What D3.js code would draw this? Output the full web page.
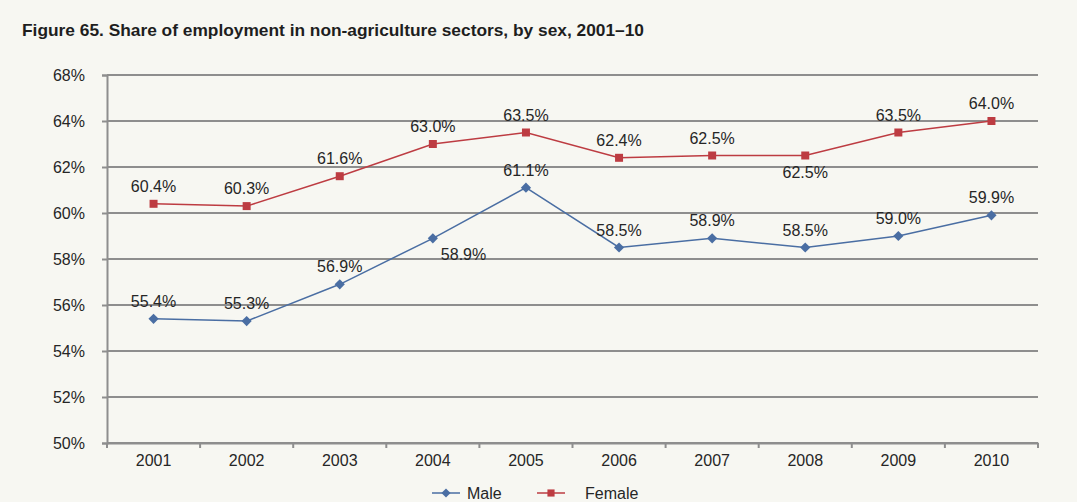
<!DOCTYPE html>
<html lang="en">

<head>
    <meta charset="UTF-8">
    <script src="https://d3js.org/d3.v7.min.js"></script>
    <title>Share of employment in non-agriculture sectors</title>

    <style>
        body {
            margin: 0;
            background: #f7f7f2;
            font-family: "Liberation Sans", Arial, sans-serif;
        }

        .axis text {
            font-size: 16px;
            fill: #262626;
        }

        .label {
            font-size: 16px;
            fill: #262626;
        }
    </style>
</head>

<body>
    <script>
        // data
        const years = ['2001', '2002', '2003', '2004', '2005', '2006', '2007', '2008', '2009', '2010'];
        const male = [55.4, 55.3, 56.9, 58.9, 61.1, 58.5, 58.9, 58.5, 59.0, 59.9];
        const female = [60.4, 60.3, 61.6, 63.0, 63.5, 62.4, 62.5, 62.5, 63.5, 64.0];
        // where each value label sits relative to its point
        const malePlace = ['up', 'up', 'up', 'right', 'up', 'up', 'up', 'up', 'up', 'up'];
        const femalePlace = ['up', 'up', 'up', 'up', 'up', 'up', 'up', 'down', 'up', 'up'];
        const yTicks = [50, 52, 54, 56, 58, 60, 62, 64, 66];
        const yTickLabels = ['50%', '52%', '54%', '56%', '58%', '60%', '62%', '64%', '68%'];

        const width = 1077, height = 502;
        const margin = { top: 75, right: 39, bottom: 59, left: 107 };

        const svg = d3.select('body').append('svg')
            .attr('width', width)
            .attr('height', height);

        svg.append('text')
            .attr('x', 22)
            .attr('y', 36)
            .attr('font-size', '17px')
            .attr('font-weight', 'bold')
            .attr('fill', '#1e1e1e')
            .attr('textLength', 622)
            .attr('lengthAdjust', 'spacingAndGlyphs')
            .text('Figure 65. Share of employment in non-agriculture sectors, by sex, 2001–10');

        const x = d3.scaleBand().domain(years).range([margin.left, width - margin.right]);
        const y = d3.scaleLinear().domain([50, 66]).range([height - margin.bottom, margin.top]);
        const cx = (d) => x(d) + x.bandwidth() / 2;

        // gridlines
        svg.append('g')
            .selectAll('line')
            .data(yTicks)
            .join('line')
            .attr('x1', margin.left)
            .attr('x2', width - margin.right)
            .attr('y1', (d) => y(d))
            .attr('y2', (d) => y(d))
            .attr('stroke', '#8e8e8e')
            .attr('stroke-width', 2);

        // y axis
        const yaxis = d3.axisLeft(y)
            .tickValues(yTicks)
            .tickFormat((d, i) => yTickLabels[i])
            .tickSize(5)
            .tickPadding(17);
        const gy = svg.append('g')
            .attr('class', 'axis')
            .attr('transform', `translate(${margin.left},0)`)
            .call(yaxis);
        gy.select('.domain').attr('stroke', '#8e8e8e').attr('stroke-width', 2);
        gy.selectAll('.tick line').attr('stroke', '#8e8e8e').attr('stroke-width', 2);

        // x axis, ticks sit between categories
        const xaxis = d3.axisBottom(x).tickSize(0).tickPadding(12);
        const gx = svg.append('g')
            .attr('class', 'axis')
            .attr('transform', `translate(0,${y(50)})`)
            .call(xaxis);
        gx.select('.domain').attr('stroke', '#8e8e8e').attr('stroke-width', 2);
        gx.selectAll('.sep')
            .data(years.concat(['end']))
            .join('line')
            .attr('class', 'sep')
            .attr('x1', (d, i) => margin.left + i * x.step())
            .attr('x2', (d, i) => margin.left + i * x.step())
            .attr('y1', 0)
            .attr('y2', 5)
            .attr('stroke', '#8e8e8e')
            .attr('stroke-width', 2);

        // diamonds are squares turned by 45 degrees
        const series = [
            { name: 'Male', values: male, place: malePlace, color: '#4a6ea3', rot: 45, size: 52 },
            { name: 'Female', values: female, place: femalePlace, color: '#bd3c42', rot: 0, size: 64 }
        ];

        const line = d3.line()
            .x((d, i) => cx(years[i]))
            .y((d) => y(d));

        series.forEach((s) => {
            const g = svg.append('g');
            g.append('path')
                .datum(s.values)
                .attr('fill', 'none')
                .attr('stroke', s.color)
                .attr('stroke-width', 1.5)
                .attr('d', line);

            g.selectAll('path.pt')
                .data(s.values)
                .join('path')
                .attr('class', 'pt')
                .attr('transform', (d, i) => `translate(${cx(years[i])},${y(d)}) rotate(${s.rot})`)
                .attr('d', d3.symbol().type(d3.symbolSquare).size(s.size))
                .attr('fill', s.color);

            g.selectAll('text')
                .data(s.values)
                .join('text')
                .attr('class', 'label')
                .attr('x', (d, i) => s.place[i] === 'right' ? cx(years[i]) + 8 : cx(years[i]))
                .attr('y', (d, i) => s.place[i] === 'up' ? y(d) - 12 : y(d) + 22)
                .attr('text-anchor', (d, i) => s.place[i] === 'right' ? 'start' : 'middle')
                .text((d) => d.toFixed(1) + '%');
        });

        // legend
        const legendX = [432, 537];
        const legend = svg.append('g').attr('transform', 'translate(0,493)');
        series.forEach((s, i) => {
            const lx = legendX[i];
            const lg = legend.append('g').attr('transform', `translate(${lx},0)`);
            lg.append('line')
                .attr('x1', 0).attr('x2', 28)
                .attr('stroke', s.color)
                .attr('stroke-width', 1.5);
            lg.append('path')
                .attr('transform', `translate(14,0) rotate(${s.rot})`)
                .attr('d', d3.symbol().type(d3.symbolSquare).size(s.size * 0.8))
                .attr('fill', s.color);
            lg.append('text')
                .attr('class', 'label')
                .attr('x', i === 0 ? 35 : 48)
                .attr('y', 6)
                .text(s.name);
        });
    </script>
</body>

</html>
